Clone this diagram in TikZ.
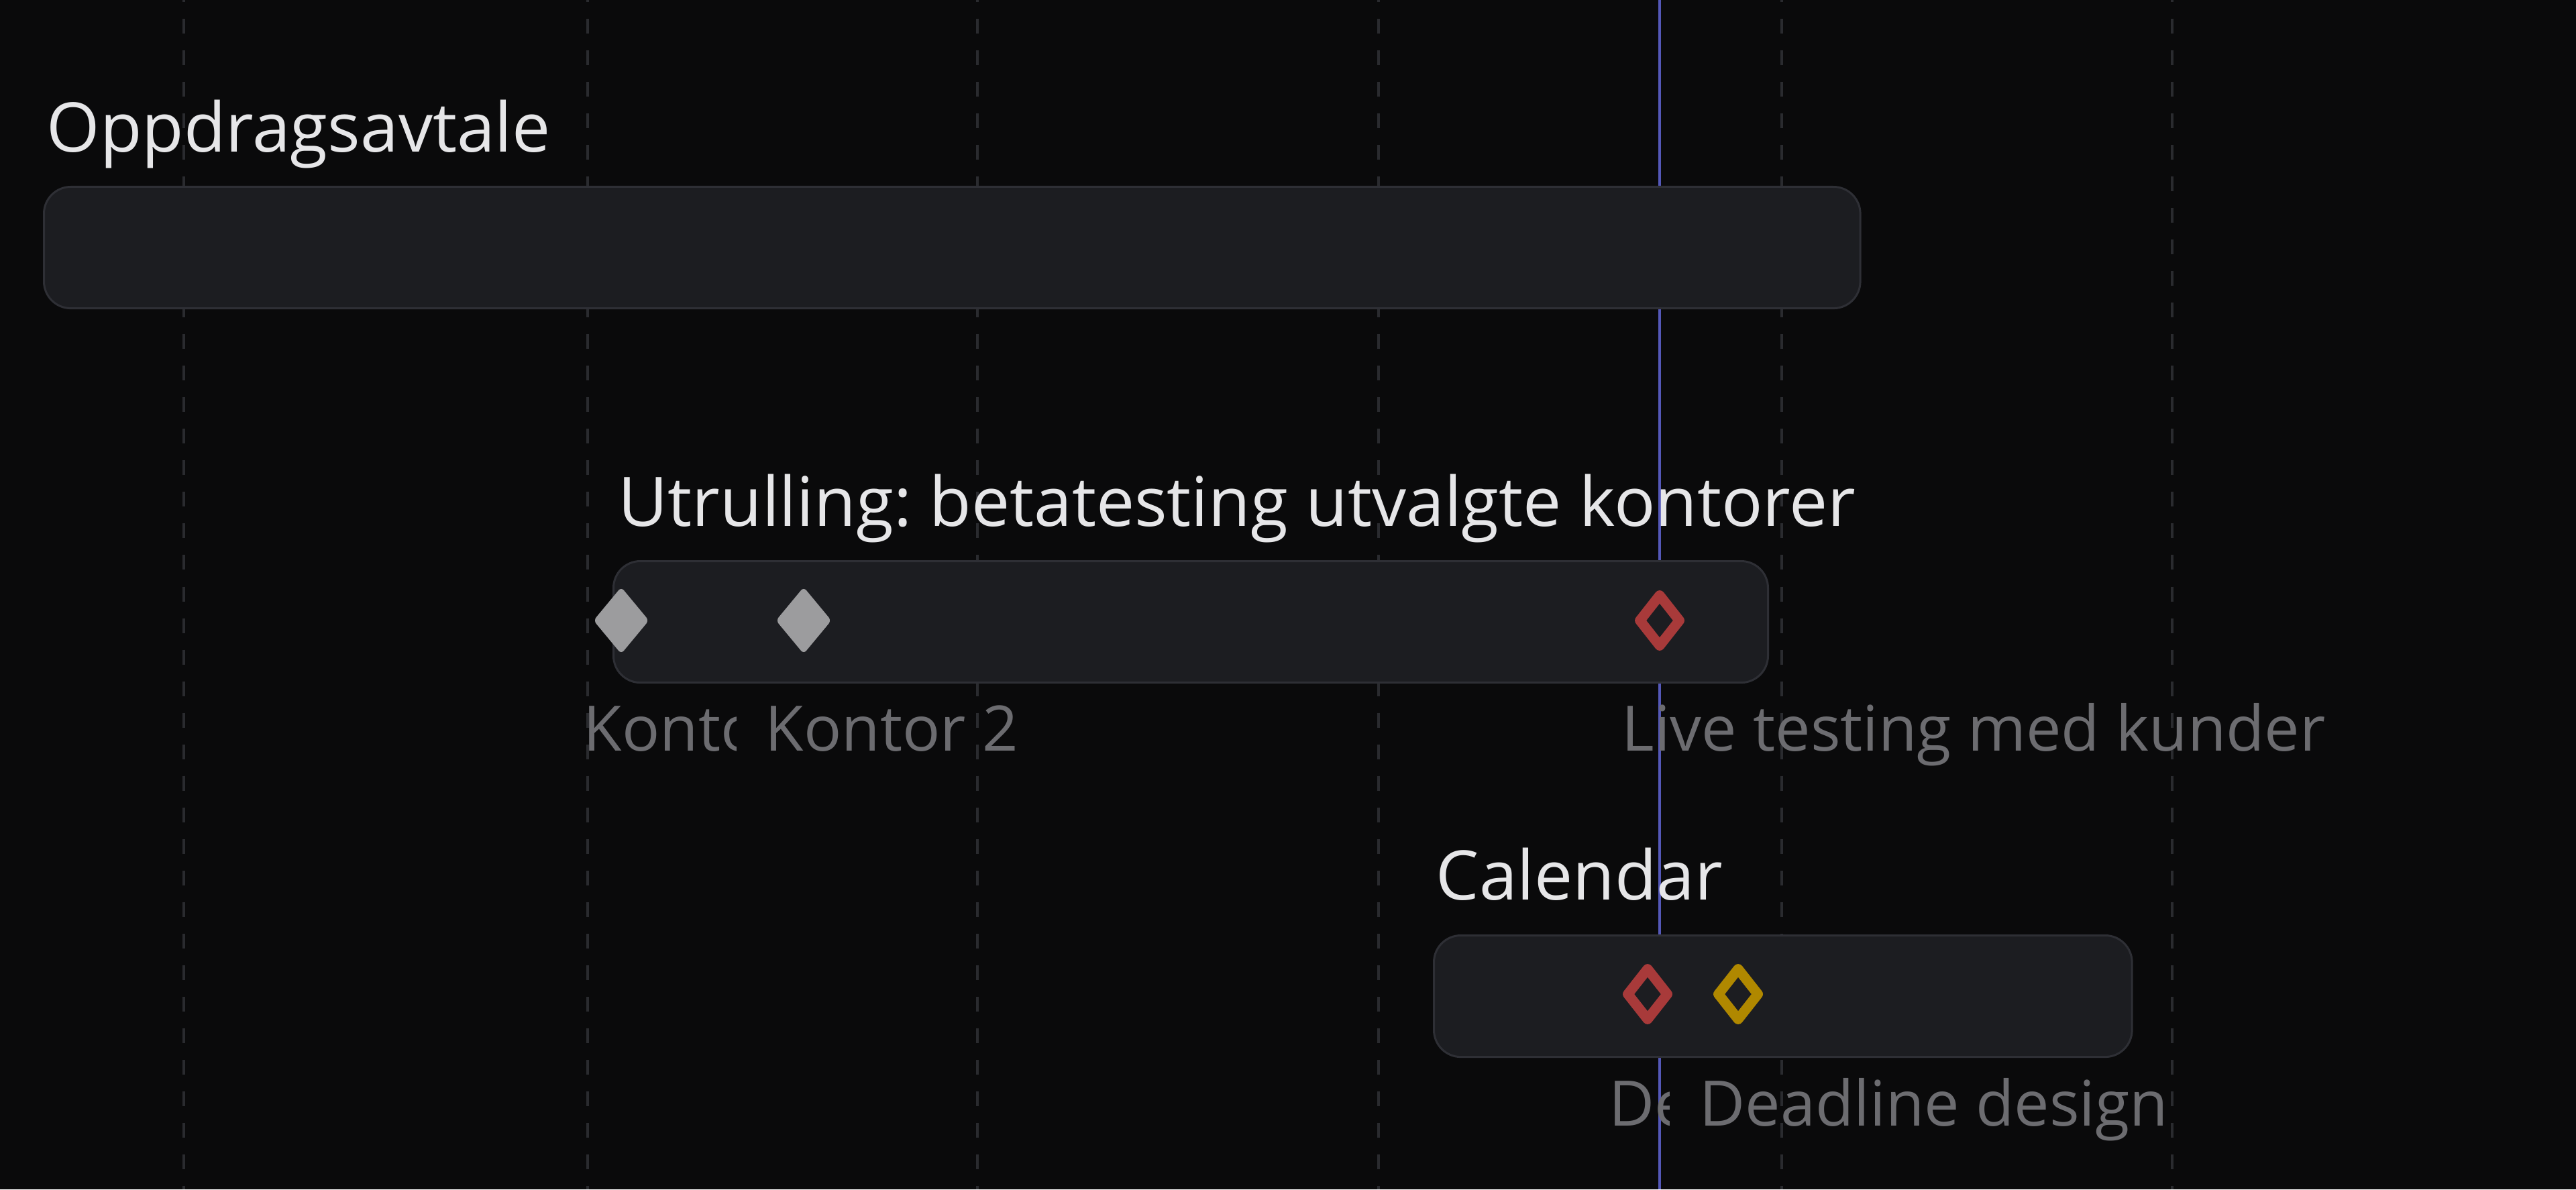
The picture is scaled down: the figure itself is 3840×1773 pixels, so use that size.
\documentclass[tikz,border=0pt]{standalone}
\usepackage{fontspec}
\setmainfont{Open Sans}
\usetikzlibrary{shapes.geometric}
\definecolor{bg}{HTML}{0A0A0B}
\definecolor{barfill}{HTML}{1C1D21}
\definecolor{barline}{HTML}{2E2F35}
\definecolor{gridc}{HTML}{2A2B2F}
\definecolor{nowc}{HTML}{5458B8}
\definecolor{titlec}{HTML}{E6E6E8}
\definecolor{labelc}{HTML}{6C6C70}
\definecolor{mgray}{HTML}{9C9C9E}
\definecolor{mred}{HTML}{A83A3A}
\definecolor{myellow}{HTML}{B08800}
\frenchspacing

\tikzset{
  bar/.style={draw=barline, fill=barfill, line width=0.3mm, rounded corners=4mm, anchor=north west, minimum height=18.1mm, inner sep=0},
  bartitle/.style={anchor=base west, inner sep=0, text=titlec, font=\fontsize{29}{35}\selectfont},
  mslabel/.style={anchor=base west, inner sep=0, text=labelc, font=\fontsize{26.6}{32}\selectfont},
  msdone/.style={diamond, fill=mgray, inner sep=0, minimum width=8.3mm, minimum height=10mm, rounded corners=0.6mm},
  msopen/.style={diamond, draw=#1, line width=1.5mm, line join=round, inner sep=0, minimum width=6.5mm, minimum height=8.1mm},
  gridline/.style={gridc, line width=0.35mm, dash pattern=on 2.2mm off 2.5mm, dash phase=-2.8mm}
}

\begin{document}
\begin{tikzpicture}[x=0.01cm, y=-0.01cm]
    \fill[bg] (0,0) rectangle (3840,1773);
    \useasboundingbox (0,0) rectangle (3840,1773);
    % week lines
    \foreach \gx in {274,876,1457,2055,2656,3238}
        \draw[gridline] (\gx,0) -- (\gx,1773);
    % today
    \draw[nowc, line width=0.35mm] (2474,0) -- (2474,1773);

    \node[bar, minimum width=270.6mm] (oppd) at (64,277) {};
    \node[bartitle] (oppdtitle) at (69,227) {Oppdragsavtale};

    \node[bar, minimum width=172mm] (utr) at (913,835) {};
    \node[bartitle] (utrtitle) at (921,784) {Utrulling: betatesting utvalgte kontorer};
    \node[msdone] (k1) at (926,925) {};
    \node[msdone] (k2) at (1198,925) {};
    \node[msopen=mred] (live) at (2474,925) {};
    \begin{scope}
        \clip (860,1040) rectangle (1097,1150);
        \node[mslabel] (k1label) at (869,1119) {Konto};
    \end{scope}
    \node[mslabel] (k2label) at (1140,1119) {Kontor 2};
    \node[mslabel] (livelabel) at (2417,1119) {Live testing med kunder};

    \node[bar, minimum width=104mm] (cal) at (2136,1393) {};
    \node[bartitle] (caltitle) at (2140,1341) {Calendar};
    \node[msopen=mred] (d1) at (2456,1482) {};
    \node[msopen=myellow] (d2) at (2591,1482) {};
    \begin{scope}
        \clip (2390,1600) rectangle (2488,1700);
        \node[mslabel] (d1label) at (2398,1678) {De};
    \end{scope}
    \node[mslabel] (d2label) at (2533,1678) {Deadline design};
\end{tikzpicture}
\end{document}
